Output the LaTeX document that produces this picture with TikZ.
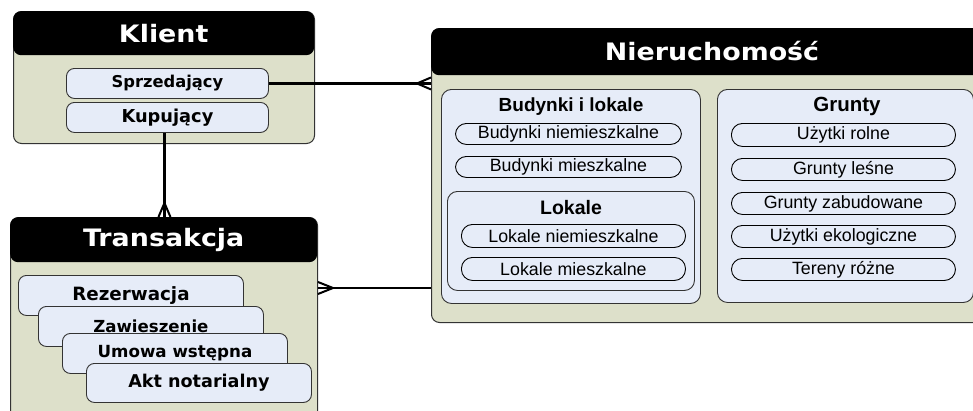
\documentclass[tikz,border=0pt]{standalone}
\usepackage{fontspec}
\setmainfont{Liberation Sans}
\newfontfamily\hdfont{DejaVu Sans}[FakeStretch=1.12]
\newfontfamily\itemfont{DejaVu Sans}
\usetikzlibrary{calc}
\definecolor{olivebg}{HTML}{DDE0CA}
\definecolor{paleblue}{HTML}{E6ECF8}
\definecolor{edgegray}{HTML}{333333}
\tikzset{
  sz/.style 2 args={minimum width=#1pt, minimum height=#2pt},
  fs/.style={font=\itemfont\bfseries\fontsize{#1}{#1}\selectfont},
  entity/.style={draw=edgegray, line width=1pt, fill=olivebg, rounded corners=8pt,
    anchor=north west, inner sep=0pt},
  header/.style={fill=black, rounded corners=8pt, anchor=north west, inner sep=0pt,
    text=white, font=\hdfont\bfseries\fontsize{24}{28}\selectfont},
  role/.style={draw=edgegray, line width=0.9pt, fill=paleblue, rounded corners=8pt,
    anchor=north west, inner sep=0pt, fs=17},
  group/.style={draw=edgegray, line width=0.9pt, fill=paleblue, rounded corners=10pt,
    anchor=north west, inner sep=0pt},
  grouptitle/.style={font=\bfseries\fontsize{#1}{#1}\selectfont, inner sep=0pt},
  pill/.style={draw=black, line width=0.9pt, fill=paleblue, rounded corners=11pt,
    anchor=north west, inner sep=0pt, font=\fontsize{17.8}{20}\selectfont},
  conn/.style={draw=black, line width=2.2pt},
  foot/.style={draw=black, line width=2pt}
}
\begin{document}
\begin{tikzpicture}[x=1pt, y=-1pt]
\useasboundingbox (0,0) rectangle (973,410);
\clip (0,0) rectangle (973,410);

% ---- Klient ----
\node[entity, sz={301}{132}] (klient) at (13,11) {};
\node[header, sz={301}{44}] (klienthd) at (13,11) {Klient};
\node[role, sz={202}{30}, fs=16.3] (spr) at (66,68) {Sprzedający};
\node[role, sz={202}{30}, fs=17.8] (kup) at (66,102) {Kupujący};

% ---- Transakcja ----
\node[entity, sz={307}{213}] (trans) at (10,217) {};
\node[header, sz={307}{45}] (transhd) at (10,217) {Transakcja};
\node[role, sz={225}{40}, fs=18.3] (rez) at (18,275) {Rezerwacja};
\node[role, sz={225}{40}, fs=16.6] (zaw) at (38,306) {Zawieszenie};
\node[role, sz={225}{40}, fs=16.7] (umo) at (62,333) {Umowa wstępna};
\node[role, sz={225}{39}, fs=17.6] (akt) at (86,363) {Akt notarialny};

% ---- Nieruchomość ----
\node[entity, sz={580}{294}] (nier) at (431,28) {};
\node[header, sz={580}{47}] (nierhd) at (431,28) {};
\node[text=white, inner sep=0pt, font=\hdfont\bfseries\fontsize{24}{28}\selectfont]
  (niertitle) at (712,51) {Nieruchomość};

\node[group, sz={259}{214}] (bud) at (441,89) {};
\node[grouptitle=19] (budtitle) at (571,107) {Budynki i lokale};
\node[pill, sz={226}{21}] (bn) at (455,123) {Budynki niemieszkalne};
\node[pill, sz={226}{21}] (bm) at (455,156) {Budynki mieszkalne};
\node[group, sz={247}{99}] (lok) at (447,191) {};
\node[grouptitle=19.5] (loktitle) at (571,208) {Lokale};
\node[pill, sz={224}{23}] (ln) at (461,224) {Lokale niemieszkalne};
\node[pill, sz={224}{23}] (lm) at (461,257) {Lokale mieszkalne};

\node[group, sz={256}{213}] (gru) at (717,89) {};
\node[grouptitle=20.5] (grutitle) at (847,106) {Grunty};
\node[pill, sz={224}{23}] (ur) at (731,123) {Użytki rolne};
\node[pill, sz={224}{22}] (gl) at (731,158) {Grunty leśne};
\node[pill, sz={224}{22}] (gz) at (731,192) {Grunty zabudowane};
\node[pill, sz={224}{22}] (ue) at (731,225) {Użytki ekologiczne};
\node[pill, sz={224}{22}] (tr) at (731,258) {Tereny różne};

% ---- relationships ----
% Klient (one) -- Nieruchomość (many)
\coordinate (kn) at (spr.east -| nier.west);
\draw[conn] (spr.east) -- (kn);
\draw[foot] ($(kn)+(-14,0)$) -- ($(kn)+(0,-6)$)
            ($(kn)+(-14,0)$) -- ($(kn)+(0,6)$);

% Klient (one) -- Transakcja (many)
\coordinate (kb) at ($(kup.south)+(-3,0)$);
\coordinate (kt) at (kb |- trans.north);
\draw[conn] (kb) -- (kt);
\draw[foot] ($(kt)+(0,-14)$) -- ($(kt)+(-6,0)$)
            ($(kt)+(0,-14)$) -- ($(kt)+(6,0)$);

% Transakcja (many) -- Nieruchomość (one)
\coordinate (tn) at ($(trans.north east)+(0,71)$);
\draw[conn] (tn) -- (tn -| nier.west);
\draw[foot] ($(tn)+(15,0)$) -- ($(tn)+(0,-6)$)
            ($(tn)+(15,0)$) -- ($(tn)+(0,6)$);
\end{tikzpicture}
\end{document}
